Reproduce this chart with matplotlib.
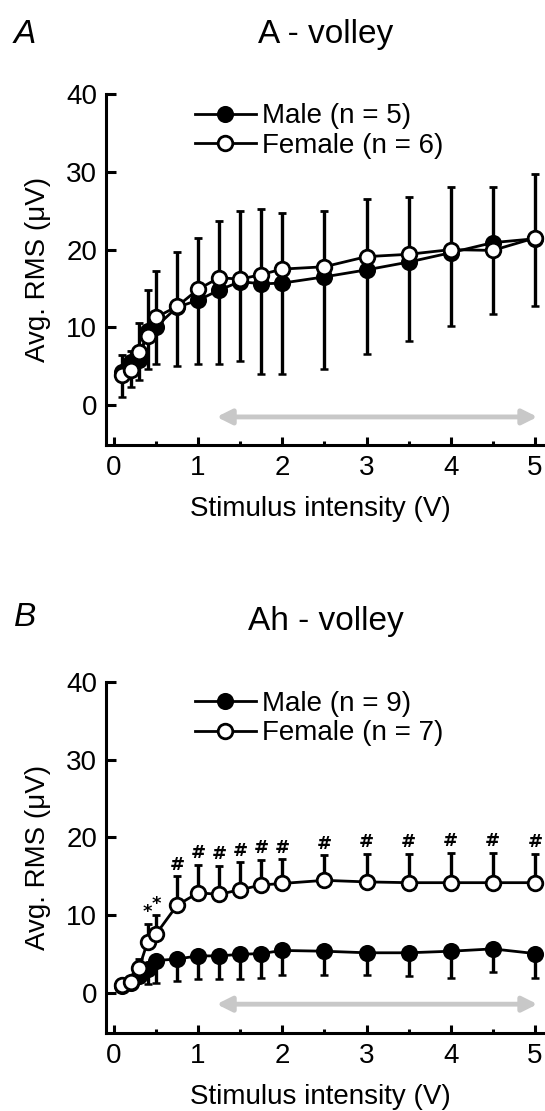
import matplotlib
matplotlib.use('Agg')
import matplotlib.pyplot as plt
from matplotlib.lines import Line2D

plt.rcParams['font.family'] = ['Liberation Sans', 'DejaVu Sans']

# stimulus intensities (V)
intensity = [0.1, 0.2, 0.3, 0.4, 0.5, 0.75, 1, 1.25, 1.5, 1.75, 2, 2.5, 3, 3.5, 4, 4.5, 5]

# A-volley, mean and SD (uV)
a_male_mean = [4.3, 5.6, 5.8, 9.6, 10.1, 12.6, 13.5, 14.8, 15.9, 15.6, 15.7, 16.5, 17.4, 18.4, 19.6, 20.9, 21.4]
a_male_sd = [3.2, 3.3, 2.6, 4.9, 4.8, 7.5, 8.2, 9.5, 10.2, 11.6, 11.7, 11.8, 10.8, 10.1, 9.4, 9.2, 8.7]
a_female_mean = [3.9, 4.5, 6.8, 8.9, 11.3, 12.7, 14.9, 16.4, 16.2, 16.8, 17.5, 17.8, 19.1, 19.4, 20.0, 19.9, 21.5]
a_female_sd = [2.5, 2.5, 3.8, 5.9, 5.9, 7.0, 6.6, 7.3, 8.8, 8.4, 7.2, 7.1, 7.4, 7.4, 8.0, 8.1, 8.2]

# Ah-volley, mean and SD (uV)
b_male_mean = [0.9, 1.3, 2.2, 3.1, 4.2, 4.4, 4.8, 4.8, 5.0, 5.1, 5.5, 5.4, 5.2, 5.2, 5.4, 5.7, 5.1]
b_male_sd = [0.3, 0.4, 0.8, 1.9, 2.9, 2.8, 3.0, 3.0, 3.2, 3.1, 3.2, 3.1, 2.9, 3.0, 3.4, 3.0, 3.1]
b_female_mean = [1.0, 1.4, 3.3, 6.6, 7.6, 11.3, 12.9, 12.7, 13.3, 13.9, 14.1, 14.5, 14.3, 14.2, 14.2, 14.2, 14.2]
b_female_sd = [0.3, 0.4, 1.1, 2.3, 2.4, 3.7, 3.6, 3.7, 3.5, 3.2, 3.1, 3.2, 3.6, 3.7, 3.8, 3.8, 3.7]
b_signif = ['', '', '', '*', '*', '#', '#', '#', '#', '#', '#', '#', '#', '#', '#', '#', '#']

panels = [
    dict(letter='A', title='A - volley', n_male=5, n_female=6,
         male=(a_male_mean, a_male_sd), female=(a_female_mean, a_female_sd),
         signif=None, rect=[0.1936, 0.5995, 0.8064, 0.3159], arrow_y=-1.5,
         title_y=0.9613, letter_y=0.9613),
    dict(letter='B', title='Ah - volley', n_male=9, n_female=7,
         male=(b_male_mean, b_male_sd), female=(b_female_mean, b_female_sd),
         signif=b_signif, rect=[0.1936, 0.0702, 0.8064, 0.3162], arrow_y=-1.4,
         title_y=0.4329, letter_y=0.4365),
]

MS = 10.5
LW = 2.0

fig = plt.figure(figsize=(5.45, 11.11), dpi=100)

for p in panels:
    ax = fig.add_axes(p['rect'])
    m_mean, m_sd = p['male']
    f_mean, f_sd = p['female']

    # male: lower error only, female: upper error only
    ax.errorbar(intensity, m_mean, yerr=[m_sd, [0] * len(m_sd)], color='black',
                marker='o', markersize=MS, markerfacecolor='black', markeredgecolor='black',
                markeredgewidth=1.8, linewidth=LW, elinewidth=2.4, capsize=3.2, capthick=2.4,
                zorder=3)
    ax.errorbar(intensity, f_mean, yerr=[[0] * len(f_sd), f_sd], color='black',
                marker='o', markersize=MS, markerfacecolor='white', markeredgecolor='black',
                markeredgewidth=2.0, linewidth=LW, elinewidth=2.4, capsize=3.2, capthick=2.4,
                zorder=4)

    if p['signif']:
        for xv, yv, sd, s in zip(intensity, f_mean, f_sd, p['signif']):
            if not s:
                continue
            ax.annotate(s, xy=(xv, yv + sd), xytext=(0, 2), textcoords='offset points',
                        ha='center', va='bottom', fontsize=13, fontweight='bold',
                        family='DejaVu Sans')

    # stimulus range used for the averages
    ax.annotate('', xy=(5.03, p['arrow_y']), xytext=(1.22, p['arrow_y']),
                arrowprops=dict(arrowstyle='<|-|>', color='#c8c8c8', lw=3.5,
                                mutation_scale=22, shrinkA=0, shrinkB=0))

    ax.set_xlim(-0.1, 5.12)
    ax.set_ylim(-5.1, 40)
    ax.set_xticks([0, 1, 2, 3, 4, 5])
    ax.set_xticks([0.5, 1.5, 2.5, 3.5, 4.5], minor=True)
    ax.set_yticks([0, 10, 20, 30, 40])
    ax.spines['top'].set_visible(False)
    ax.spines['right'].set_visible(False)
    for s in ('left', 'bottom'):
        ax.spines[s].set_linewidth(2.2)
    ax.tick_params(axis='both', which='major', direction='in', width=2.2, labelsize=20)
    ax.tick_params(axis='y', which='major', length=7, pad=6)
    ax.tick_params(axis='x', which='major', length=6, pad=7)
    ax.tick_params(axis='x', which='minor', direction='in', length=3, width=2.2)

    ax.set_xlabel('Stimulus intensity (V)', fontsize=20)
    ax.xaxis.set_label_coords(0.488, -0.145)
    ax.set_ylabel('Avg. RMS (\u03bcV)', fontsize=20)
    ax.yaxis.set_label_coords(-0.125, 0.5)

    handles = [
        Line2D([], [], color='black', lw=LW, marker='o', markersize=MS,
               markerfacecolor='black', markeredgewidth=1.8),
        Line2D([], [], color='black', lw=LW, marker='o', markersize=MS,
               markerfacecolor='white', markeredgewidth=2.0),
    ]
    labels = [f"Male (n = {p['n_male']})", f"Female (n = {p['n_female']})"]
    ax.legend(handles, labels, loc='upper left', bbox_to_anchor=(0.178, 1.005), frameon=False,
              fontsize=20, handlelength=2.2, handletextpad=0.2, labelspacing=0.12,
              borderaxespad=0.0)

    fig.text(0.598, p['title_y'], p['title'], ha='center', va='baseline', fontsize=24)
    fig.text(0.025, p['letter_y'], p['letter'], ha='left', va='baseline', fontsize=24,
             style='italic')

fig.savefig('out.png', dpi=100)
